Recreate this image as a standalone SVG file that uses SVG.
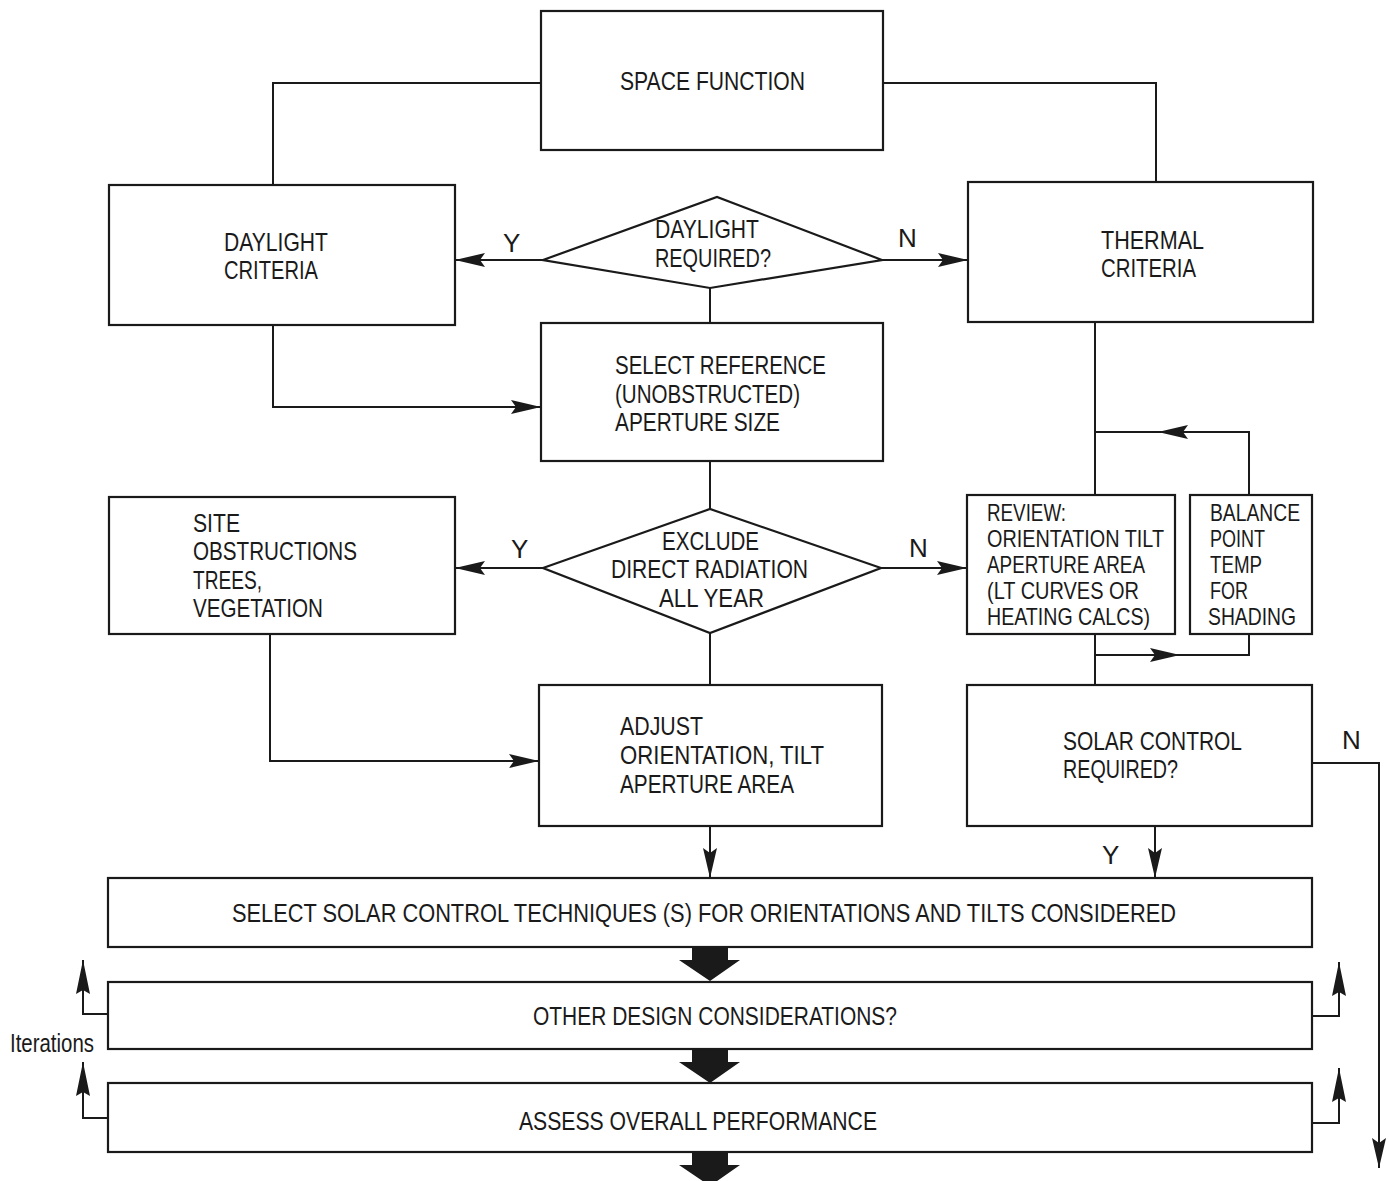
<svg xmlns="http://www.w3.org/2000/svg" width="1389" height="1181" viewBox="0 0 1389 1181">
<defs>
<style>
.box{fill:#fff;stroke:#1a1a1a;stroke-width:2.2}
.ln{fill:none;stroke:#1a1a1a;stroke-width:2}
.t{font-family:"Liberation Sans",Arial,sans-serif;font-size:26px;fill:#1a1a1a}
.s{font-size:24px}
.fat{fill:#1a1a1a}
</style>
<marker id="ah" markerUnits="userSpaceOnUse" markerWidth="32" markerHeight="16" refX="30" refY="7" orient="auto" viewBox="0 0 32 14">
<path d="M0,0 L30,7 L0,14 L5,7 z" fill="#1a1a1a"/>
</marker>
<marker id="ah2" markerUnits="userSpaceOnUse" markerWidth="36" markerHeight="16" refX="34" refY="7" orient="auto" viewBox="0 0 36 14">
<path d="M0,0 L34,7 L0,14 L4,7 z" fill="#1a1a1a"/>
</marker>
</defs>
<rect width="1389" height="1181" fill="#fff"/>

<g id="connectors">
<path class="ln" d="M541,83 H273 V185"/>
<path class="ln" d="M883,83 H1156 V182"/>
<path class="ln" d="M543,260 H455" marker-end="url(#ah)"/>
<path class="ln" d="M882,260 H968" marker-end="url(#ah)"/>
<path class="ln" d="M710,288 V323"/>
<path class="ln" d="M273,325 V407 H541" marker-end="url(#ah)"/>
<path class="ln" d="M710,461 V509"/>
<path class="ln" d="M543,568 H455" marker-end="url(#ah)"/>
<path class="ln" d="M881,568 H967" marker-end="url(#ah)"/>
<path class="ln" d="M270,634 V761 H539" marker-end="url(#ah)"/>
<path class="ln" d="M710,633 V685"/>
<path class="ln" d="M710,826 V878" marker-end="url(#ah)"/>
<path class="ln" d="M1095,322 V495"/>
<path class="ln" d="M1249,495 V432 H1158" marker-end="url(#ah)"/>
<path class="ln" d="M1158,432 H1095"/>
<path class="ln" d="M1095,634 V685"/>
<path class="ln" d="M1095,655 H1180" marker-end="url(#ah)"/>
<path class="ln" d="M1180,655 H1249 V634"/>
<path class="ln" d="M1312,763 H1379 V1168" marker-end="url(#ah)"/>
<path class="ln" d="M1155,826 V878" marker-end="url(#ah)"/>
<path class="ln" d="M108,1014 H83 V960" marker-end="url(#ah2)"/>
<path class="ln" d="M108,1118 H83 V1062" marker-end="url(#ah2)"/>
<path class="ln" d="M1312,1016 H1339 V962" marker-end="url(#ah2)"/>
<path class="ln" d="M1312,1123 H1339 V1068" marker-end="url(#ah2)"/>
<polygon class="fat" points="692,947 728,947 728,960 740,960 710,981 679,960 692,960"/>
<polygon class="fat" points="692,1049 728,1049 728,1062 740,1062 710,1083 679,1062 692,1062"/>
<polygon class="fat" points="692,1152 728,1152 728,1165 740,1165 710,1186 679,1165 692,1165"/>
</g>

<g id="space-function">
<rect class="box" x="541" y="11" width="342" height="139"/>
<text class="t" x="620" y="90" textLength="185" lengthAdjust="spacingAndGlyphs">SPACE FUNCTION</text>
</g>

<g id="daylight-criteria">
<rect class="box" x="109" y="185" width="346" height="140"/>
<text class="t" x="224" y="251" textLength="104" lengthAdjust="spacingAndGlyphs">DAYLIGHT</text>
<text class="t" x="224" y="279" textLength="94" lengthAdjust="spacingAndGlyphs">CRITERIA</text>
</g>

<g id="daylight-required">
<polygon class="box" points="543,260 717,197 882,260 710,288"/>
<text class="t" x="655" y="238" textLength="104" lengthAdjust="spacingAndGlyphs">DAYLIGHT</text>
<text class="t" x="655" y="267" textLength="116" lengthAdjust="spacingAndGlyphs">REQUIRED?</text>
<text class="t" x="503" y="252">Y</text>
<text class="t" x="898" y="247">N</text>
</g>

<g id="thermal-criteria">
<rect class="box" x="968" y="182" width="345" height="140"/>
<text class="t" x="1101" y="249" textLength="103" lengthAdjust="spacingAndGlyphs">THERMAL</text>
<text class="t" x="1101" y="277" textLength="95" lengthAdjust="spacingAndGlyphs">CRITERIA</text>
</g>

<g id="select-reference">
<rect class="box" x="541" y="323" width="342" height="138"/>
<text class="t" x="615" y="374" textLength="211" lengthAdjust="spacingAndGlyphs">SELECT REFERENCE</text>
<text class="t" x="615" y="403" textLength="185" lengthAdjust="spacingAndGlyphs">(UNOBSTRUCTED)</text>
<text class="t" x="615" y="431" textLength="165" lengthAdjust="spacingAndGlyphs">APERTURE SIZE</text>
</g>

<g id="site-obstructions">
<rect class="box" x="109" y="497" width="346" height="137"/>
<text class="t" x="193" y="532" textLength="47" lengthAdjust="spacingAndGlyphs">SITE</text>
<text class="t" x="193" y="560" textLength="164" lengthAdjust="spacingAndGlyphs">OBSTRUCTIONS</text>
<text class="t" x="193" y="589" textLength="69" lengthAdjust="spacingAndGlyphs">TREES,</text>
<text class="t" x="193" y="617" textLength="130" lengthAdjust="spacingAndGlyphs">VEGETATION</text>
</g>

<g id="exclude-direct">
<polygon class="box" points="543,568 710,509 881,568 710,633"/>
<text class="t" x="662" y="550" textLength="97" lengthAdjust="spacingAndGlyphs">EXCLUDE</text>
<text class="t" x="611" y="578" textLength="197" lengthAdjust="spacingAndGlyphs">DIRECT RADIATION</text>
<text class="t" x="659" y="607" textLength="105" lengthAdjust="spacingAndGlyphs">ALL YEAR</text>
<text class="t" x="511" y="558">Y</text>
<text class="t" x="909" y="557">N</text>
</g>

<g id="adjust">
<rect class="box" x="539" y="685" width="343" height="141"/>
<text class="t" x="620" y="735" textLength="83" lengthAdjust="spacingAndGlyphs">ADJUST</text>
<text class="t" x="620" y="764" textLength="204" lengthAdjust="spacingAndGlyphs">ORIENTATION, TILT</text>
<text class="t" x="620" y="793" textLength="174" lengthAdjust="spacingAndGlyphs">APERTURE AREA</text>
</g>

<g id="review">
<rect class="box" x="967" y="495" width="208" height="139"/>
<text class="t s" x="987" y="521" textLength="79" lengthAdjust="spacingAndGlyphs">REVIEW:</text>
<text class="t s" x="987" y="547" textLength="177" lengthAdjust="spacingAndGlyphs">ORIENTATION TILT</text>
<text class="t s" x="987" y="573" textLength="158" lengthAdjust="spacingAndGlyphs">APERTURE AREA</text>
<text class="t s" x="987" y="599" textLength="152" lengthAdjust="spacingAndGlyphs">(LT CURVES OR</text>
<text class="t s" x="987" y="625" textLength="163" lengthAdjust="spacingAndGlyphs">HEATING CALCS)</text>
</g>

<g id="balance-point">
<rect class="box" x="1190" y="495" width="122" height="139"/>
<text class="t s" x="1210" y="521" textLength="90" lengthAdjust="spacingAndGlyphs">BALANCE</text>
<text class="t s" x="1210" y="547" textLength="55" lengthAdjust="spacingAndGlyphs">POINT</text>
<text class="t s" x="1210" y="573" textLength="52" lengthAdjust="spacingAndGlyphs">TEMP</text>
<text class="t s" x="1210" y="599" textLength="38" lengthAdjust="spacingAndGlyphs">FOR</text>
<text class="t s" x="1208" y="625" textLength="88" lengthAdjust="spacingAndGlyphs">SHADING</text>
</g>

<g id="solar-control-required">
<rect class="box" x="967" y="685" width="345" height="141"/>
<text class="t" x="1063" y="750" textLength="179" lengthAdjust="spacingAndGlyphs">SOLAR CONTROL</text>
<text class="t" x="1063" y="778" textLength="115" lengthAdjust="spacingAndGlyphs">REQUIRED?</text>
<text class="t" x="1342" y="749">N</text>
<text class="t" x="1102" y="864">Y</text>
</g>

<g id="select-techniques">
<rect class="box" x="108" y="878" width="1204" height="69"/>
<text class="t" x="232" y="922" textLength="944" lengthAdjust="spacingAndGlyphs">SELECT SOLAR CONTROL TECHNIQUES (S) FOR ORIENTATIONS AND TILTS CONSIDERED</text>
</g>

<g id="other-design">
<rect class="box" x="108" y="982" width="1204" height="67"/>
<text class="t" x="533" y="1025" textLength="364" lengthAdjust="spacingAndGlyphs">OTHER DESIGN CONSIDERATIONS?</text>
</g>

<g id="assess">
<rect class="box" x="108" y="1083" width="1204" height="69"/>
<text class="t" x="519" y="1130" textLength="358" lengthAdjust="spacingAndGlyphs">ASSESS OVERALL PERFORMANCE</text>
</g>

<g id="iterations-label">
<text class="t" x="10" y="1052" font-size="23" textLength="84" lengthAdjust="spacingAndGlyphs">Iterations</text>
</g>
</svg>
